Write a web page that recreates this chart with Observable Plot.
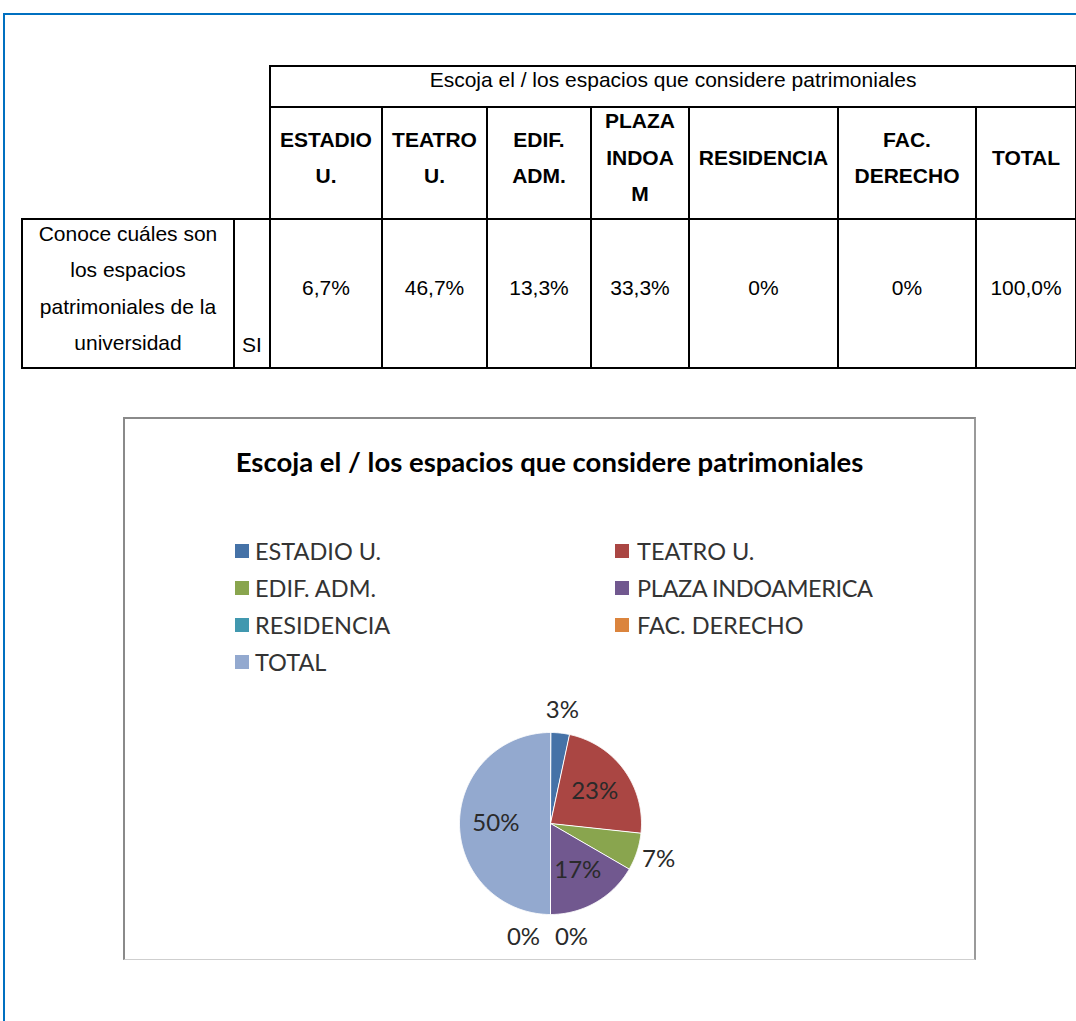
<!DOCTYPE html>
<html>
<head>
<meta charset="utf-8">
<script src="https://cdn.jsdelivr.net/npm/d3@7"></script>
<script src="https://cdn.jsdelivr.net/npm/@observablehq/plot@0.6"></script>
<style>
  html, body { margin: 0; padding: 0; background: #fff; }
  body { width: 1076px; height: 1021px; position: relative; overflow: hidden; }
  #frame { position: absolute; left: 3px; top: 13px; right: -10px; bottom: -10px;
           border-top: 2px solid #0070C0; border-left: 2px solid #0070C0; }
  table { position: absolute; left: 21px; top: 65px; border-collapse: collapse; table-layout: fixed;
          font-family: "Liberation Sans", Arial, sans-serif; font-size: 21px; color: #000; }
  td { border: 2px solid #000; text-align: center; padding: 0; line-height: 36.5px; }
  td.blank { border: none; }
  td .in { position: relative; top: -5px; }
  tr.r1 { height: 41px; }
  tr.r2 { height: 112px; }
  tr.r3 { height: 149px; }
  tr.r1 td { vertical-align: top; line-height: 26px; }
  tr.r1 td .in { top: 0px; }
  tr.r2 td { vertical-align: middle; font-weight: bold; }
  tr.r3 td { vertical-align: middle; }
  tr.r3 td.si { vertical-align: bottom; }
  tr.r3 td.si .in { top: -4px; }
  #chartbox { position: absolute; left: 123px; top: 417px; width: 853px; height: 543px; box-sizing: border-box;
              border-left: 2px solid #8a8a8a; border-top: 2px solid #8a8a8a;
              border-right: 2px solid #9a9a9a; border-bottom: 1px solid #cfcfcf; }
  #ctitle { position: absolute; left: 124px; width: 851px; top: 447px; text-align: center;
            font-family: Lato, sans-serif; font-weight: bold; font-size: 27.5px; line-height: 30px; color: #000; }
  .leg { position: absolute; height: 28px; line-height: 28px; font-family: Lato, sans-serif; font-size: 23.5px;
         color: #333; white-space: nowrap; }
  .sw { position: absolute; width: 14px; height: 14px; }
  #pie { position: absolute; left: 400px; top: 673px; }
</style>
</head>
<body>
<div id="frame"></div>
<table id="tbl"></table>
<div id="chartbox"></div>
<div id="ctitle"></div>
<div id="legend"></div>
<div id="pie"></div>
<script>
// ---- data ----
const chartTitle = "Escoja el / los espacios que considere patrimoniales";
const categories = ["ESTADIO U.", "TEATRO U.", "EDIF. ADM.", "PLAZA INDOAMERICA", "RESIDENCIA", "FAC. DERECHO", "TOTAL"];
const headerLines = [["ESTADIO", "U."], ["TEATRO", "U."], ["EDIF.", "ADM."], ["PLAZA", "INDOA", "M"], ["RESIDENCIA"], ["FAC.", "DERECHO"], ["TOTAL"]];
const values = [6.7, 46.7, 13.3, 33.3, 0, 0, 100.0];
const rowLabelLines = ["Conoce cuáles son", "los espacios", "patrimoniales de la", "universidad"];
const rowAnswer = "SI";
const colors = ["#4572A7", "#AA4643", "#89A54E", "#71588F", "#4198AF", "#DB843D", "#93A9CF"];

// ---- table ----
const colWidths = [212, 36, 112, 105, 104, 98, 149, 138, 100];
const fmt = v => v === 0 ? "0%" : v.toFixed(1).replace(".", ",") + "%";
const cell = (content, cls) => `<td${cls ? ` class="${cls}"` : ""}><div class="in">${content}</div></td>`;
const tbl = document.getElementById("tbl");
tbl.style.width = d3.sum(colWidths) + "px";
let html = "<colgroup>" + colWidths.map(w => `<col style="width:${w}px">`).join("") + "</colgroup>";
html += `<tr class="r1"><td class="blank" colspan="2"></td><td colspan="${categories.length}"><div class="in">${chartTitle}</div></td></tr>`;
html += `<tr class="r2"><td class="blank" colspan="2"></td>` + headerLines.map(l => cell(l.join("<br>"))).join("") + "</tr>";
html += `<tr class="r3">` + cell(rowLabelLines.join("<br>")) + cell(rowAnswer, "si") + values.map(v => cell(fmt(v))).join("") + "</tr>";
tbl.innerHTML = html;

// ---- chart title ----
document.getElementById("ctitle").textContent = chartTitle;

// ---- legend (two columns, row-major) ----
const legend = document.getElementById("legend");
const legSwX = [235, 615], legTxtX = [255, 637], legY0 = 551, legDY = 37;
categories.forEach((c, i) => {
  const col = i % 2, row = Math.floor(i / 2);
  const cy = legY0 + row * legDY;
  const sw = document.createElement("div");
  sw.className = "sw";
  sw.style.left = legSwX[col] + "px";
  sw.style.top = (cy - 7) + "px";
  sw.style.background = colors[i];
  legend.appendChild(sw);
  const t = document.createElement("div");
  t.className = "leg";
  t.style.left = legTxtX[col] + "px";
  t.style.top = (cy - 14) + "px";
  t.textContent = c;
  if (c.length > 14) t.style.letterSpacing = "-0.4px";
  legend.appendChild(t);
});

// ---- pie via Plot ----
const total = d3.sum(values);
const arcs = d3.pie().sort(null).value(d => d)(values);
const polys = [];
arcs.forEach((a, i) => {
  if (a.value <= 0) return;
  polys.push({name: categories[i], x: 0, y: 0});
  const n = Math.max(2, Math.ceil((a.endAngle - a.startAngle) / (Math.PI / 360)));
  for (let k = 0; k <= n; k++) {
    const t = a.startAngle + (a.endAngle - a.startAngle) * k / n;
    polys.push({name: categories[i], x: Math.sin(t), y: Math.cos(t)});
  }
});
const labels = [];
const zeroIdx = arcs.map((a, i) => i).filter(i => values[i] === 0);
arcs.forEach((a, i) => {
  const share = values[i] / total;
  const mid = (a.startAngle + a.endAngle) / 2;
  const r = share >= 0.1 ? 0.6 : 1.25;
  let x = r * Math.sin(mid), y = r * Math.cos(mid);
  if (values[i] === 0) {
    const k = zeroIdx.indexOf(i);
    x += ((((zeroIdx.length - 1) / 2) - k) * 48 - 3) / 91;
  }
  labels.push({x, y, text: Math.round(share * 100) + "%"});
});
const size = 300, R = (size / 2) / 91;
const pie = Plot.plot({
  width: size, height: size, margin: 0,
  x: {domain: [-R, R], axis: null},
  y: {domain: [-R, R], axis: null},
  color: {domain: categories, range: colors},
  style: {background: "transparent", overflow: "visible"},
  marks: [
    Plot.line(polys, {x: "x", y: "y", z: "name", fill: "name", stroke: "white", strokeWidth: 1, curve: "linear-closed"}),
    Plot.text(labels, {x: "x", y: "y", text: "text", fontSize: 24, fontFamily: "Lato, sans-serif", fill: "#2a2a2a"})
  ]
});
document.getElementById("pie").appendChild(pie);
</script>
</body>
</html>
